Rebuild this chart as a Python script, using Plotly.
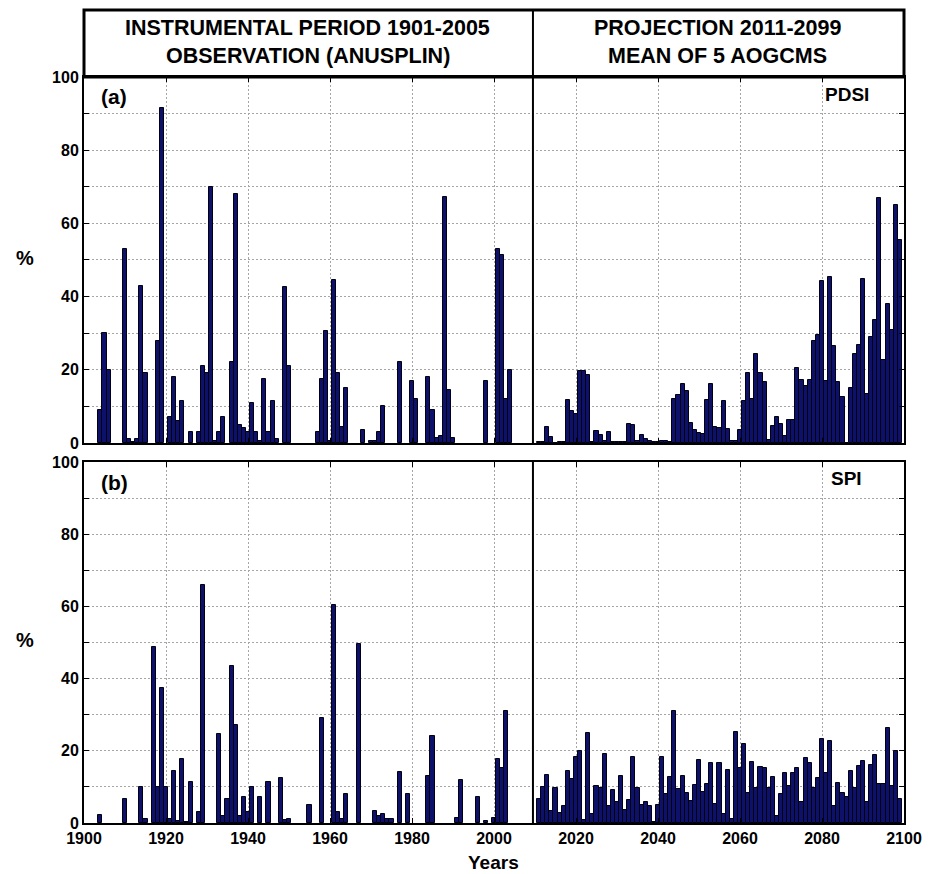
import plotly.graph_objects as go

# ---------------- data ----------------
X_RANGE = [1900, 2100]
Y_RANGE = [0, 100]
X_TICKS = [1900, 1920, 1940, 1960, 1980, 2000, 2020, 2040, 2060, 2080, 2100]
X_TICK_TEXT = ["1900", "1920", "1940", "1960", "1980", "2000", "2020", "2040", "2060", "2080", "2100"]
Y_TICKS = [0, 10, 20, 30, 40, 50, 60, 70, 80, 90, 100]
Y_TICK_TEXT = ["0", "", "20", "", "40", "", "60", "", "80", "", "100"]
DIVIDER_YEAR = 2009.5

# (a) PDSI, observation 1901-2005 (years with non-zero values)
PDSI_OBS_YEARS = [1904, 1905, 1906, 1910, 1911, 1912, 1913, 1914, 1915, 1918, 1919,
                  1921, 1922, 1923, 1924, 1926, 1928, 1929, 1930, 1931, 1932, 1933,
                  1934, 1936, 1937, 1938, 1939, 1940, 1941, 1942, 1943, 1944, 1945,
                  1946, 1947, 1949, 1950, 1957, 1958, 1959, 1960, 1961, 1962, 1963,
                  1964, 1968, 1970, 1971, 1972, 1973, 1977, 1980, 1981, 1984, 1985,
                  1986, 1987, 1988, 1989, 1990, 1998, 2001, 2002, 2003, 2004]
PDSI_OBS = [9, 30, 20, 53, 1, 0.3, 1, 43, 19, 28, 91.5,
            7, 18, 6, 11.5, 3, 3, 21, 19, 70, 0.5, 3,
            7, 22, 68, 5, 4, 3, 11, 3, 0.5, 17.5, 3,
            11.4, 1, 42.7, 21, 3, 17.5, 30.5, 0.5, 44.5, 19, 4.4,
            15, 3.6, 0.5, 0.6, 3, 10, 22, 17, 12, 18, 9,
            1.4, 1.8, 67.3, 14.4, 1.4, 17, 53, 51.5, 12, 20]

# (b) SPI, observation 1901-2005 (years with non-zero values)
SPI_OBS_YEARS = [1904, 1910, 1914, 1915, 1917, 1918, 1919, 1920, 1921, 1922, 1923,
                 1924, 1925, 1926, 1928, 1929, 1933, 1934, 1935, 1936, 1937, 1938,
                 1939, 1940, 1941, 1943, 1945, 1948, 1949, 1950, 1955, 1958, 1961,
                 1962, 1963, 1964, 1967, 1971, 1972, 1973, 1974, 1975, 1977, 1979,
                 1984, 1985, 1991, 1992, 1996, 1998, 2000, 2001, 2002, 2003]
SPI_OBS = [2.1, 6.6, 10, 1.2, 48.8, 10, 37.3, 10, 1.2, 14.5, 0.5,
           17.7, 0.3, 11.4, 3, 65.9, 24.6, 2, 6.6, 43.6, 27.2, 2,
           7.2, 3, 10, 7.2, 11.4, 12.6, 0.8, 1.2, 5, 29.2, 60.4,
           3, 1.2, 8.1, 49.6, 3.3, 2, 2.5, 1.2, 1.2, 14.2, 8.1,
           13, 24.2, 1.5, 12, 7.2, 0.5, 1.5, 17.6, 15.2, 31.1]

# Projection 2011-2099, mean of 5 AOGCMs
PROJ_YEARS = list(range(2011, 2100))
PDSI_PROJ = [0.3, 0.2, 4.4, 1.6, 0, 0.3, 0.3, 11.7, 8.7, 8,
             19.8, 19.6, 18.7, 0.2, 3.2, 2.1, 0.6, 2.9, 0.3, 0.3,
             0.3, 0.3, 5.2, 5, 0.6, 2.3, 1.1, 0.5, 0.3, 0.2,
             0.6, 0.6, 0.3, 11.9, 13.2, 16, 14.3, 5.5, 3.6, 2.6,
             2.5, 11.7, 16, 4.4, 4.1, 11.4, 3.9, 0.5, 0.5, 3.6,
             11.4, 19, 11.9, 24.2, 19.1, 16.6, 0.9, 4.6, 7.1, 5.3,
             1.8, 6.2, 6.4, 20.5, 17.3, 15.7, 17.1, 28, 29.6, 44.2,
             16.9, 45.4, 26.6, 16.6, 12.6, 0, 15, 24.4, 26.9, 44.8,
             13.5, 29, 33.5, 67, 22.6, 38.1, 31, 65, 55.6]
SPI_PROJ = [6.6, 10, 13.3, 3.2, 9.6, 2.8, 4.8, 14.4, 12.3, 18.2,
            20, 0.9, 24.9, 2.5, 10.3, 9.7, 19.1, 4.6, 9.1, 5.9,
            13, 3.7, 6.4, 18.2, 9.7, 5, 5.7, 4.8, 0.3, 5.1,
            18.2, 8, 12.8, 31.1, 9.4, 13, 8.2, 6.2, 10.6, 17.4,
            8.5, 10.7, 16.5, 5.3, 16.7, 2.4, 14.8, 1.2, 25.1, 15.1,
            21.9, 8.3, 16.9, 9.8, 15.5, 15.1, 9.7, 12.8, 1.8, 8,
            13.9, 10.3, 13.9, 15.3, 5.7, 18, 16.5, 9.7, 12.6, 23.2,
            13.9, 22.8, 4.6, 11.2, 8.2, 7.1, 14.4, 9.8, 15.8, 17.3,
            5.7, 16.2, 18.8, 10.7, 10.9, 26.4, 10.3, 19.9, 6.6]

# ---------------- style ----------------
FONT = "Liberation Sans, Arial, Helvetica, sans-serif"
BAR_FILL = "#0e116a"
BAR_EDGE = "#000012"
GRID_COLOR = "#a6a6a6"
GRID_DASH = "2px,2px"

fig = go.Figure()


def add_bars(x, y, xa, ya):
    fig.add_trace(go.Bar(
        x=x, y=y, xaxis=xa, yaxis=ya, width=1,
        marker=dict(color=BAR_FILL, line=dict(color=BAR_EDGE, width=1)),
        showlegend=False, hoverinfo="x+y"))


add_bars(PDSI_OBS_YEARS, PDSI_OBS, "x", "y")
add_bars(PROJ_YEARS, PDSI_PROJ, "x", "y")
add_bars(SPI_OBS_YEARS, SPI_OBS, "x2", "y2")
add_bars(PROJ_YEARS, SPI_PROJ, "x2", "y2")

tick_font = dict(family=FONT, size=16, color="black", weight="bold")

common_x = dict(range=X_RANGE, tickvals=X_TICKS, ticktext=X_TICK_TEXT,
                ticks="inside", ticklen=5, tickcolor="black", tickwidth=1,
                showline=True, linecolor="black", linewidth=2, mirror="ticks",
                showgrid=True, gridcolor=GRID_COLOR, gridwidth=1, griddash=GRID_DASH,
                zeroline=False, tickfont=tick_font, fixedrange=True)
common_y = dict(range=Y_RANGE, tickvals=Y_TICKS, ticktext=Y_TICK_TEXT,
                ticks="inside", ticklen=5, tickcolor="black", tickwidth=1,
                showline=True, linecolor="black", linewidth=2, mirror="ticks",
                showgrid=True, gridcolor=GRID_COLOR, gridwidth=1, griddash=GRID_DASH,
                zeroline=False, tickfont=tick_font, fixedrange=True)

DOM_A = [0.5094, 1.0]
DOM_B = [0.0, 0.4839]

fig.update_layout(
    width=934, height=874,
    margin=dict(l=84, r=24, t=77, b=51),
    paper_bgcolor="white", plot_bgcolor="white",
    bargap=0, barmode="overlay",
    font=dict(family=FONT, color="black"),
    xaxis=dict(common_x, anchor="y", domain=[0, 1], showticklabels=False),
    yaxis=dict(common_y, anchor="x", domain=DOM_A),
    xaxis2=dict(common_x, anchor="y2", domain=[0, 1], showticklabels=True),
    yaxis2=dict(common_y, anchor="x2", domain=DOM_B),
)

HEADER_TOP = 1.0898
shapes = [
    dict(type="rect", xref="paper", yref="paper", x0=0, x1=1, y0=1.0, y1=HEADER_TOP,
         line=dict(color="black", width=3), fillcolor="rgba(0,0,0,0)", layer="above"),
    dict(type="line", xref="x", yref="paper", x0=DIVIDER_YEAR, x1=DIVIDER_YEAR,
         y0=1.0, y1=HEADER_TOP, line=dict(color="black", width=2)),
    dict(type="line", xref="x", yref="y domain", x0=DIVIDER_YEAR, x1=DIVIDER_YEAR,
         y0=0, y1=1, line=dict(color="black", width=2), layer="above"),
    dict(type="line", xref="x2", yref="y2 domain", x0=DIVIDER_YEAR, x1=DIVIDER_YEAR,
         y0=0, y1=1, line=dict(color="black", width=2), layer="above"),
]
fig.update_layout(shapes=shapes)

bold = dict(family=FONT, color="black", weight="bold")


def ann(text, x, y, size, xanchor="center", yanchor="middle"):
    return dict(text=text, x=x, y=y, xref="paper", yref="paper", showarrow=False,
                xanchor=xanchor, yanchor=yanchor, font=dict(bold, size=size))


annotations = [
    ann("INSTRUMENTAL PERIOD 1901-2005", 0.273, 1.0653, 21.5),
    ann("OBSERVATION (ANUSPLIN)", 0.273, 1.0284, 21.5),
    ann("PROJECTION 2011-2099", 0.773, 1.0653, 21.5),
    ann("MEAN OF 5 AOGCMS", 0.773, 1.0284, 21.5),
    ann("(a)", 0.018, 0.9732, 21, xanchor="left"),
    ann("(b)", 0.018, 0.4558, 21, xanchor="left"),
    ann("PDSI", 0.96, 0.9765, 19, xanchor="right"),
    ann("SPI", 0.9516, 0.4618, 19, xanchor="right"),
    ann("%", -0.0714, 0.757, 20),
    ann("%", -0.0714, 0.2453, 20),
    ann("Years", 0.4988, -0.0523, 19),
]
fig.update_layout(annotations=annotations)

fig.write_html("out.html")
